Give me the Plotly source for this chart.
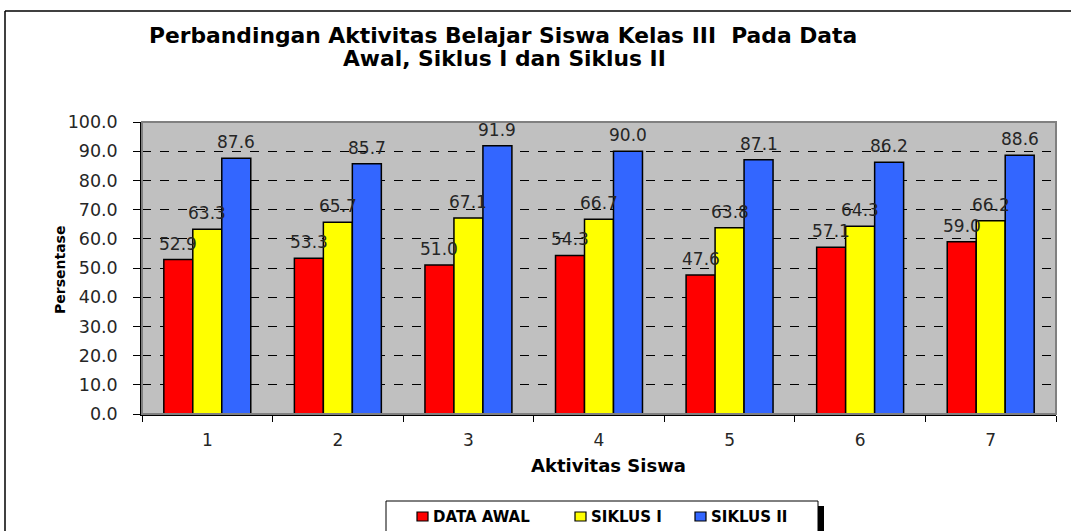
import plotly.graph_objects as go

categories = ["1", "2", "3", "4", "5", "6", "7"]
data_awal = [52.9, 53.3, 51.0, 54.3, 47.6, 57.1, 59.0]
siklus_1 = [63.3, 65.7, 67.1, 66.7, 63.8, 64.3, 66.2]
siklus_2 = [87.6, 85.7, 91.9, 90.0, 87.1, 86.2, 88.6]
series_names = ["DATA AWAL", "SIKLUS I", "SIKLUS II"]
series_colors = ["#FF0000", "#FFFF00", "#3366FF"]
y_ticks = [0, 10, 20, 30, 40, 50, 60, 70, 80, 90, 100]

W, H = 1071, 531
# plot area in page pixels: x 142..1056, y 122..414
PL, PR, PT, PB = 142, 1056, 122, 414
ML, MT = PL, PT
PW, PH = PR - PL, PB - PT
MR, MB = W - ML - PW, H - MT - PH


def fx(px):
    return (px - PL) / PW


def fy(py):
    return (PB - py) / PH


BARGAP = 0.334
series = [data_awal, siklus_1, siklus_2]

fig = go.Figure()
for name, vals, col in zip(series_names, series, series_colors):
    fig.add_trace(go.Bar(
        x=categories, y=vals, name=name,
        marker=dict(color=col, line=dict(color="black", width=1.5)),
        showlegend=False, hoverinfo="x+y+name",
    ))

bw = (1 - BARGAP) / 3
annotations = []
label_font = dict(family="DejaVu Sans", size=17, color="#262626")
for si, vals in enumerate(series):
    off = (si - 1) * bw
    for ci, v in enumerate(vals):
        annotations.append(dict(
            x=ci + off, y=v, xref="x", yref="y", text=f"{v:.1f}",
            showarrow=False, yshift=16, font=label_font,
            xanchor="center", yanchor="middle",
        ))

# Titles
title_font = dict(family="DejaVu Sans", size=21.8, color="black")
annotations.append(dict(x=fx(503), y=fy(35), xref="paper", yref="paper",
                        text="<b>Perbandingan Aktivitas Belajar Siswa Kelas III  Pada Data</b>",
                        showarrow=False, font=title_font, xanchor="center", yanchor="middle"))
annotations.append(dict(x=fx(504), y=fy(59), xref="paper", yref="paper",
                        text="<b>Awal, Siklus I dan Siklus II</b>",
                        showarrow=False, font=title_font, xanchor="center", yanchor="middle"))
annotations.append(dict(x=fx(608), y=fy(465), xref="paper", yref="paper",
                        text="<b>Aktivitas Siswa</b>", showarrow=False,
                        font=dict(family="DejaVu Sans", size=18, color="black"),
                        xanchor="center", yanchor="middle"))
annotations.append(dict(x=fx(60), y=fy(270), xref="paper", yref="paper",
                        text="<b>Persentase</b>", showarrow=False, textangle=-90,
                        font=dict(family="DejaVu Sans", size=14, color="black"),
                        xanchor="center", yanchor="middle"))

shapes = []
# plot area border (gray top/right)
shapes.append(dict(type="rect", xref="paper", yref="paper", x0=0, y0=0, x1=1, y1=1,
                   line=dict(color="#808080", width=2), fillcolor="rgba(0,0,0,0)", layer="above"))
# outer chart frame (top and left edges only visible)
shapes.append(dict(type="line", xref="paper", yref="paper", x0=fx(5), y0=fy(11),
                   x1=fx(1071), y1=fy(11), line=dict(color="black", width=1.5), layer="below"))
shapes.append(dict(type="line", xref="paper", yref="paper", x0=fx(5), y0=fy(11),
                   x1=fx(5), y1=fy(531), line=dict(color="black", width=1.5), layer="below"))
# legend box shadow and box
shapes.append(dict(type="rect", xref="paper", yref="paper", x0=fx(392), y0=fy(540),
                   x1=fx(824), y1=fy(506), line=dict(width=0), fillcolor="black", layer="above"))
shapes.append(dict(type="rect", xref="paper", yref="paper", x0=fx(386), y0=fy(540),
                   x1=fx(818), y1=fy(501), line=dict(color="black", width=1),
                   fillcolor="white", layer="above"))

legend_x = [417, 575, 695]
leg_font = dict(family="DejaVu Sans", size=15, color="black")
for lx, name, col in zip(legend_x, series_names, series_colors):
    shapes.append(dict(type="rect", xref="paper", yref="paper", x0=fx(lx), y0=fy(521),
                       x1=fx(lx + 11), y1=fy(512), line=dict(color="black", width=1.2),
                       fillcolor=col, layer="above"))
    annotations.append(dict(x=fx(lx + 14), y=fy(516.5), xref="paper", yref="paper",
                            text=f"<b>{name}</b>", showarrow=False, font=leg_font,
                            xanchor="left", yanchor="middle"))

fig.update_layout(
    width=W, height=H,
    margin=dict(l=ML, r=MR, t=MT, b=MB, autoexpand=False),
    paper_bgcolor="white", plot_bgcolor="#C0C0C0",
    barmode="group", bargap=BARGAP, bargroupgap=0,
    annotations=annotations, shapes=shapes,
    showlegend=False,
    font=dict(family="DejaVu Sans", color="#262626"),
)
fig.update_xaxes(
    type="category", range=[-0.5, 6.5], tickson="boundaries",
    ticks="outside", ticklen=6, tickcolor="black", tickwidth=1,
    showline=True, linecolor="black", linewidth=1.5, showgrid=False,
    tickfont=dict(family="DejaVu Sans", size=17, color="#262626"),
    ticklabelstandoff=10,
)
fig.update_yaxes(
    range=[0, 100], tickvals=y_ticks, ticktext=[f"{v:.1f}" for v in y_ticks],
    ticks="outside", ticklen=7, tickcolor="black", tickwidth=1,
    showline=True, linecolor="black", linewidth=1.5,
    showgrid=True, gridcolor="black", gridwidth=1, griddash="dash", zeroline=False,
    tickfont=dict(family="DejaVu Sans", size=17.5, color="#262626"),
    ticklabelstandoff=12,
)

fig.write_html(
    "out.html",
    config={"displayModeBar": False},
    post_script="document.body.style.margin='0';document.body.style.overflow='hidden';",
)
